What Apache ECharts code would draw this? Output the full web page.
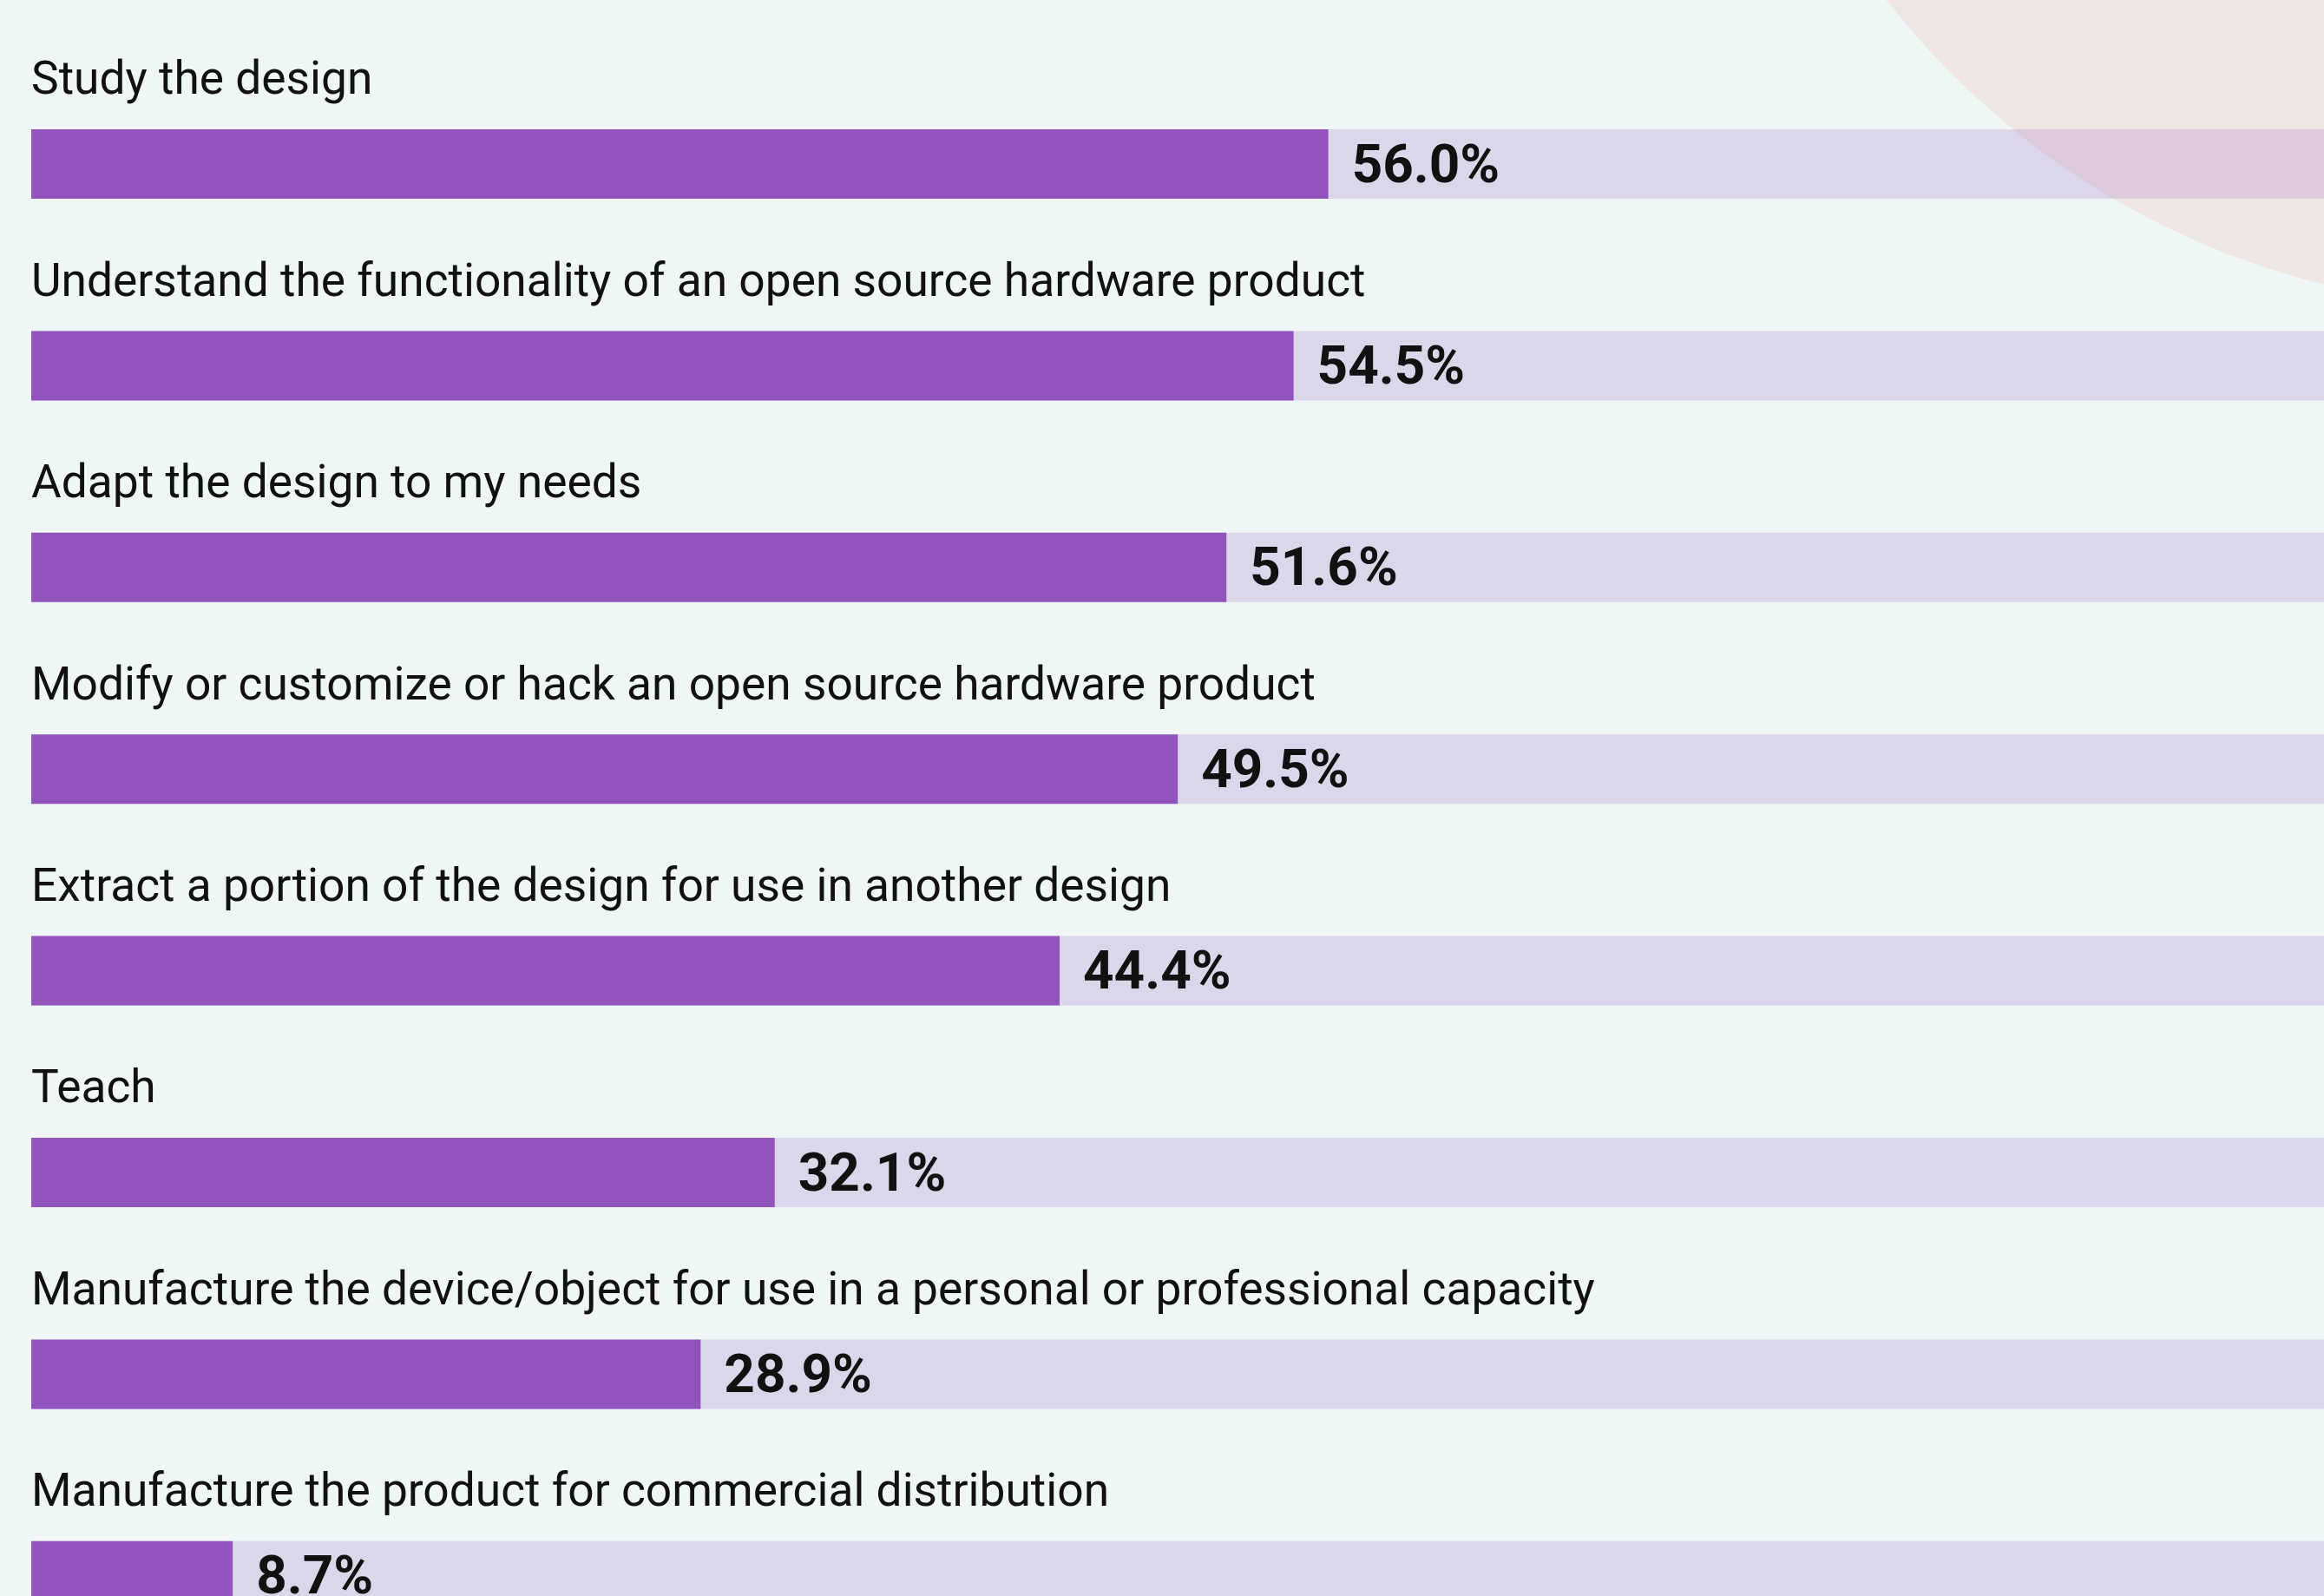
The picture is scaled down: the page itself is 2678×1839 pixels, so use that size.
<!DOCTYPE html>
<html>
<head>
<meta charset="utf-8">
<title>Open source hardware uses</title>
<script src="https://cdn.jsdelivr.net/npm/echarts@6/dist/echarts.min.js"></script>
<style>
  html, body { margin: 0; padding: 0; background: #EEF7F5; }
  #chart { width: 2678px; height: 1839px; }
</style>
</head>
<body>
<div id="chart"></div>
<script>
// Share of respondents per intended use
const categories = [
  'Study the design',
  'Understand the functionality of an open source hardware product',
  'Adapt the design to my needs',
  'Modify or customize or hack an open source hardware product',
  'Extract a portion of the design for use in another design',
  'Teach',
  'Manufacture the device/object for use in a personal or professional capacity',
  'Manufacture the product for commercial distribution'
];
const shares = [56.0, 54.5, 51.6, 49.5, 44.4, 32.1, 28.9, 8.7];
const scaleMax = 100;
const trackValues = categories.map(() => scaleMax);

const PURPLE = '#9353BD';
const TRACK = 'rgba(147, 83, 189, 0.2)';
const INK = '#111111';

const chart = echarts.init(document.getElementById('chart'), null, { renderer: 'canvas' });

chart.setOption({
  backgroundColor: '#EEF7F5',
  animation: false,
  graphic: [{
    type: 'circle',
    z: -10,
    silent: true,
    shape: { cx: 2900, cy: -565, r: 920 },
    style: { fill: '#EFE6E3' }
  }],
  // rows continue below the visible area; the last track is cut by the bottom edge
  grid: {
    left: 36, top: 72.8, right: -27, bottom: -93,
    containLabel: false,
    outerBoundsMode: 'none'
  },
  xAxis: {
    type: 'value', min: 0, max: scaleMax,
    show: false
  },
  yAxis: {
    type: 'category', data: categories, inverse: true,
    show: false
  },
  series: [
    {
      name: 'track',
      type: 'bar',
      data: trackValues,
      barWidth: 80,
      barGap: '-100%',
      z: 1,
      itemStyle: { color: TRACK },
      label: {
        show: true,
        position: [0, -54],
        align: 'left',
        verticalAlign: 'middle',
        formatter: p => categories[p.dataIndex],
        fontFamily: 'Roboto, sans-serif',
        fontSize: 53.3,
        color: INK
      },
      silent: true
    },
    {
      name: 'share',
      type: 'bar',
      data: shares,
      barWidth: 80,
      z: 2,
      itemStyle: { color: PURPLE },
      label: {
        show: true,
        position: 'right',
        distance: 27,
        offset: [0, 5],
        formatter: p => p.value.toFixed(1) + '%',
        fontFamily: 'Roboto, sans-serif',
        fontWeight: 'bold',
        fontSize: 62,
        color: INK
      }
    }
  ]
});
</script>
</body>
</html>
